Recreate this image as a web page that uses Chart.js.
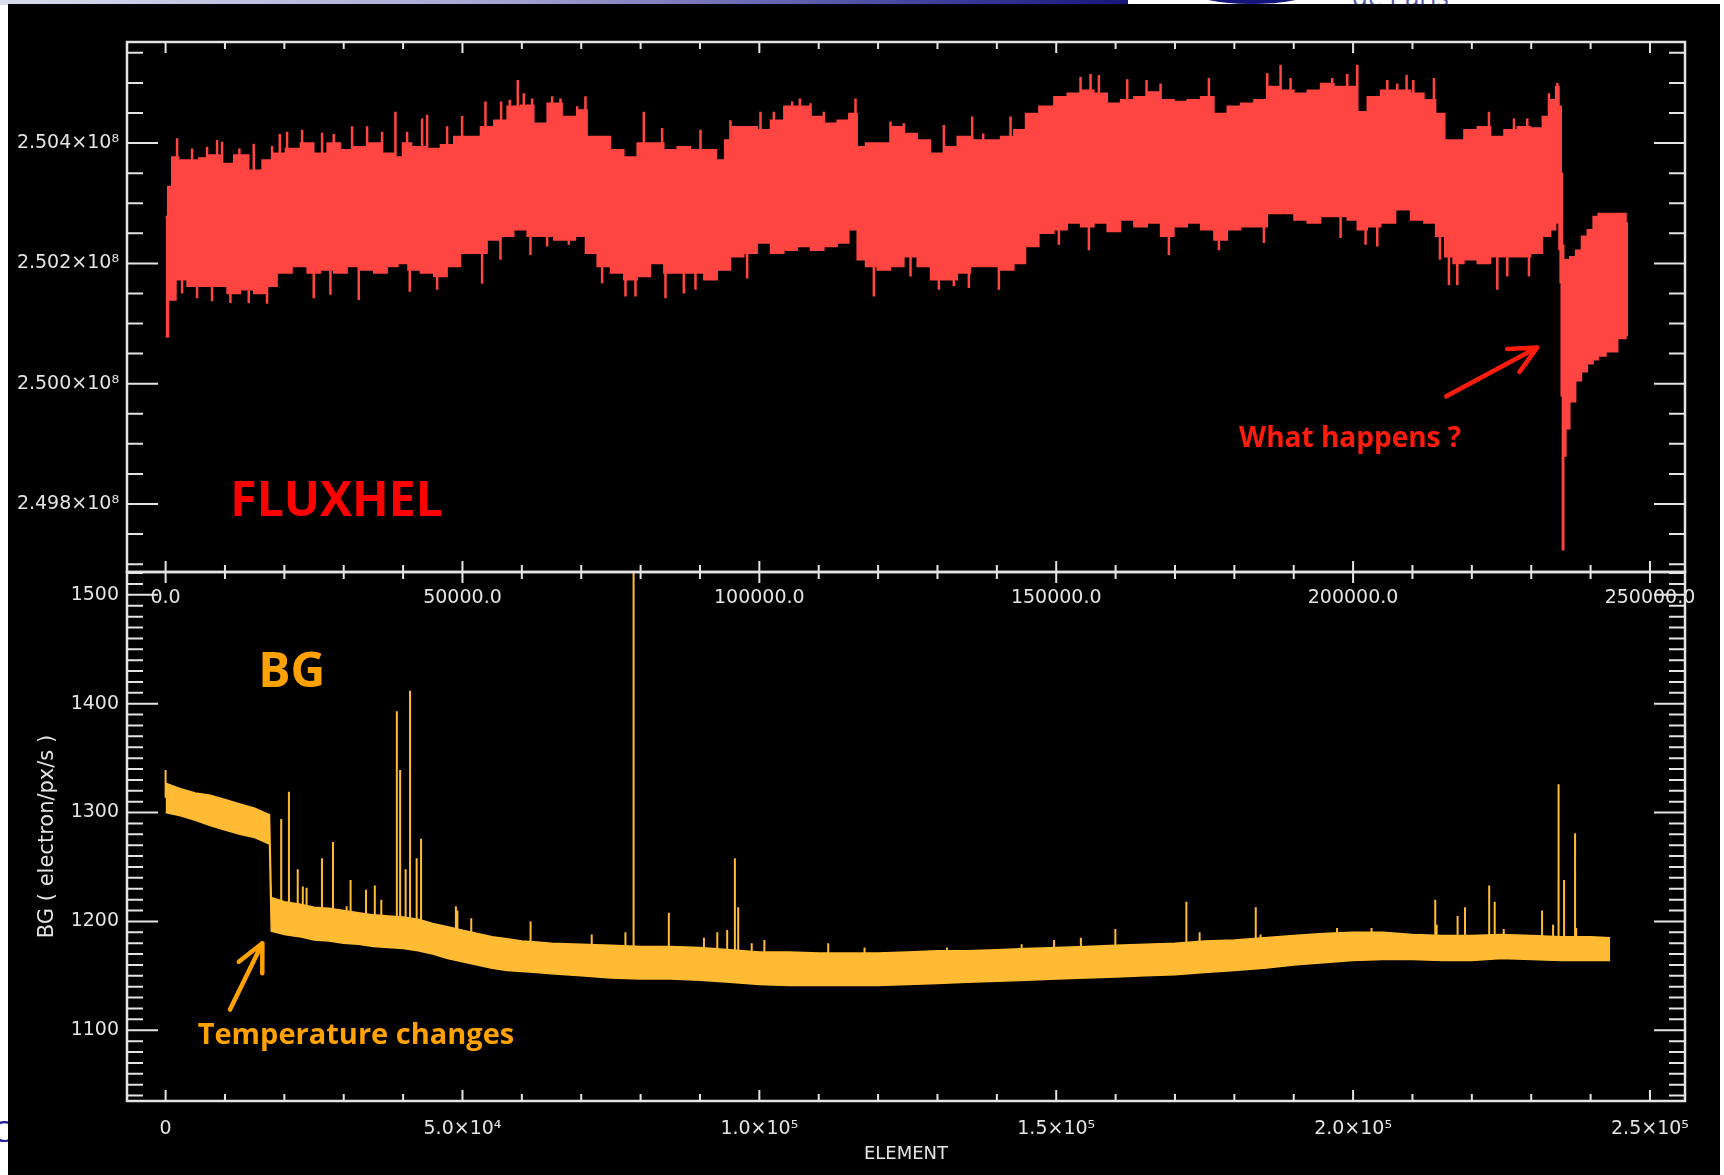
<!DOCTYPE html>
<html>
<head>
<meta charset="utf-8">
<script src="https://cdn.jsdelivr.net/npm/chart.js@4.4.1/dist/chart.umd.min.js"></script>
<style>
  html, body { margin: 0; padding: 0; background: #fff; overflow: hidden; }
  #page { position: relative; width: 1724px; height: 1175px; }
  #header { position: absolute; left: 0; top: 0; width: 1724px; height: 5px; overflow: hidden; }
  #bar { position: absolute; left: 0; top: 0; width: 1128px; height: 5px;
         background: linear-gradient(to right, #dcdcee, #a4a4d2 45%, #3a3a98 85%, #16167a); }
  #logo { position: absolute; left: 1184px; top: -30px; width: 136px; height: 34px; border-radius: 50%; background: #14147c; }
  #paris { position: absolute; left: 1352px; top: -22px; font: 26px 'Open Sans', sans-serif; color: #5a5ab0; }
  #cLetter { position: absolute; left: -8px; top: 1110px; font: 30px 'Open Sans', sans-serif; color: #1e1e96; }
  #slide { position: absolute; left: 8px; top: 4px; width: 1712px; height: 1171px; background: #000; }
  canvas { position: absolute; left: 0; top: 0; }
</style>
</head>
<body>
<div id="page">
  <div id="header"><div id="bar"></div><div id="logo"></div><div id="paris">de Paris</div></div>
  <div id="cLetter">C</div>
  <div id="slide"></div>
  <canvas id="bgChart" width="1724" height="1175"></canvas>
  <canvas id="fluxChart" width="1724" height="1175"></canvas>
</div>
<script>
// ---- valeurs ----

// FLUXHEL (unités de 1e8) : bord haut de la bande [élément, valeur]
const fluxUpper = [[0, 2.50278], [700, 2.50328], [1370, 2.50377], [3055, 2.50372], [4739, 2.50372], [6420, 2.50375],
  [8108, 2.50380], [10354, 2.50366], [12600, 2.50380], [15408, 2.50355], [17092, 2.50372], [18777, 2.50383],
  [21584, 2.50391], [23830, 2.50400], [26076, 2.50383], [28322, 2.50400], [30568, 2.50389], [32814, 2.50394],
  [35060, 2.50400], [37306, 2.50383], [39700, 2.50377], [39833, 2.50294], [39950, 2.50400], [42921, 2.50394],
  [45167, 2.50391], [47413, 2.50397], [49659, 2.50411], [51905, 2.50411], [54151, 2.50427], [56397, 2.50438],
  [58643, 2.50461], [60889, 2.50463], [63135, 2.50433], [65381, 2.50466], [68188, 2.50444], [70434, 2.50455],
  [71557, 2.50411], [73803, 2.50411], [76049, 2.50389], [78295, 2.50377], [80541, 2.50400], [82787, 2.50400],
  [85033, 2.50389], [87279, 2.50394], [89525, 2.50389], [91771, 2.50389], [93736, 2.50372], [94579, 2.50405],
  [96263, 2.50427], [98509, 2.50427], [100755, 2.50422], [103001, 2.50438], [105247, 2.50461], [107493, 2.50461],
  [109739, 2.50444], [111985, 2.50433], [114231, 2.50438], [115916, 2.50449], [117039, 2.50394], [118723, 2.50400],
  [120969, 2.50400], [123215, 2.50427], [125461, 2.50416], [127707, 2.50405], [129953, 2.50383], [132199, 2.50394],
  [134445, 2.50411], [136691, 2.50405], [139499, 2.50405], [141745, 2.50411], [143991, 2.50422], [145676, 2.50449],
  [148483, 2.50461], [150729, 2.50477], [152975, 2.50483], [155221, 2.50488], [157467, 2.50483], [159713, 2.50466],
  [161959, 2.50472], [164205, 2.50477], [166451, 2.50485], [168697, 2.50472], [170943, 2.50469], [173189, 2.50472],
  [175435, 2.50477], [177681, 2.50449], [179927, 2.50461], [182173, 2.50466], [184419, 2.50472], [186665, 2.50494],
  [188911, 2.50488], [191157, 2.50483], [193403, 2.50488], [195649, 2.50499], [197895, 2.50494], [200141, 2.50494],
  [201264, 2.50452], [203510, 2.50477], [205756, 2.50488], [208564, 2.50488], [210810, 2.50483], [213056, 2.50472],
  [214741, 2.50449], [216144, 2.50405], [217548, 2.50405], [219794, 2.50422], [222040, 2.50427], [224286, 2.50411],
  [226532, 2.50422], [228778, 2.50427], [231024, 2.50425], [232707, 2.50444], [233831, 2.50472], [234393, 2.50494],
  [234955, 2.50461], [235150, 2.50350], [235350, 2.50230], [235600, 2.50206], [236078, 2.50206], [236920, 2.50211],
  [238043, 2.50222], [238885, 2.50245], [240008, 2.50256], [240850, 2.50278], [241692, 2.50283], [243500, 2.50283],
  [245623, 2.50283], [246297, 2.50267]];

// FLUXHEL : bord bas de la bande
const fluxLower = [[0, 2.50078], [1000, 2.50139], [2493, 2.50173], [4739, 2.50162], [6985, 2.50162], [9231, 2.50162],
  [11477, 2.50150], [13723, 2.50156], [15969, 2.50150], [17654, 2.50162], [19900, 2.50184], [22707, 2.50195],
  [24953, 2.50184], [27199, 2.50189], [29445, 2.50184], [31691, 2.50195], [33937, 2.50189], [36183, 2.50184],
  [38429, 2.50195], [39833, 2.50200], [41798, 2.50189], [44044, 2.50184], [46290, 2.50178], [48536, 2.50195],
  [50782, 2.50217], [53028, 2.50217], [55274, 2.50239], [57520, 2.50245], [59766, 2.50256], [62012, 2.50245],
  [64258, 2.50245], [66504, 2.50239], [68188, 2.50239], [69873, 2.50245], [71557, 2.50217], [73803, 2.50195],
  [76049, 2.50184], [78295, 2.50173], [80541, 2.50178], [82787, 2.50200], [85033, 2.50184], [87279, 2.50184],
  [89525, 2.50184], [91771, 2.50173], [94017, 2.50189], [96263, 2.50211], [98509, 2.50217], [100755, 2.50234],
  [103001, 2.50217], [105247, 2.50222], [107493, 2.50228], [109739, 2.50222], [111985, 2.50228], [114231, 2.50234],
  [115916, 2.50256], [117039, 2.50206], [118723, 2.50195], [120969, 2.50189], [123215, 2.50195], [125461, 2.50211],
  [127707, 2.50195], [129953, 2.50173], [132199, 2.50173], [134445, 2.50184], [136691, 2.50195], [139499, 2.50195],
  [141745, 2.50189], [143991, 2.50200], [145676, 2.50228], [148483, 2.50250], [150729, 2.50256], [152975, 2.50267],
  [155221, 2.50261], [157467, 2.50267], [159713, 2.50253], [161959, 2.50272], [164205, 2.50261], [166451, 2.50267],
  [168697, 2.50245], [170943, 2.50261], [173189, 2.50267], [175435, 2.50256], [177681, 2.50239], [179927, 2.50256],
  [182173, 2.50261], [184419, 2.50261], [186665, 2.50283], [188911, 2.50283], [191157, 2.50272], [193403, 2.50267],
  [195649, 2.50278], [197895, 2.50278], [200141, 2.50272], [201264, 2.50256], [203510, 2.50261], [205756, 2.50267],
  [208564, 2.50289], [210810, 2.50272], [213056, 2.50267], [214741, 2.50245], [216144, 2.50211], [217548, 2.50200],
  [219794, 2.50206], [222040, 2.50200], [224286, 2.50211], [226532, 2.50211], [228778, 2.50211], [231024, 2.50217],
  [232707, 2.50245], [233831, 2.50256], [234393, 2.50267], [234955, 2.50223], [235150, 2.49980], [235350, 2.49724],
  [235600, 2.49880], [236078, 2.49925], [236920, 2.49970], [238043, 2.50005], [238885, 2.50020], [240008, 2.50033],
  [240850, 2.50040], [241692, 2.50046], [243500, 2.50053], [245623, 2.50075], [246297, 2.50080]];

// FLUXHEL : pics qui dépassent de la bande (vers le haut puis vers le bas)
const fluxSpikes = [[1932, 2.50408], [4458, 2.50391], [6985, 2.50394], [8670, 2.50405], [9512, 2.50402], [12432, 2.50391],
  [14846, 2.50399], [17934, 2.50395], [19226, 2.50415], [20461, 2.50419], [22988, 2.50422], [26357, 2.50417],
  [28322, 2.50415], [31410, 2.50428], [33937, 2.50428], [36464, 2.50419], [38710, 2.50452], [40675, 2.50419],
  [43203, 2.50441], [44044, 2.50447], [47413, 2.50428], [49940, 2.50445], [53871, 2.50469], [56510, 2.50469],
  [57970, 2.50472], [59317, 2.50505], [60328, 2.50483], [61731, 2.50474], [65100, 2.50478], [66504, 2.50474],
  [69311, 2.50461], [70715, 2.50478], [80541, 2.50452], [83629, 2.50425], [90087, 2.50422], [95140, 2.50438],
  [100194, 2.50452], [102440, 2.50452], [105528, 2.50469], [106820, 2.50474], [108616, 2.50466], [110862, 2.50452],
  [116196, 2.50474], [122092, 2.50436], [124338, 2.50433], [131076, 2.50430], [135849, 2.50444], [137702, 2.50416],
  [142307, 2.50444], [154098, 2.50510], [155783, 2.50515], [157186, 2.50513], [161959, 2.50506], [165216, 2.50505],
  [167574, 2.50499], [175716, 2.50508], [185542, 2.50516], [187788, 2.50530], [189473, 2.50508], [196492, 2.50508],
  [199019, 2.50515], [200703, 2.50530], [205756, 2.50505], [207441, 2.50499], [209013, 2.50513], [210136, 2.50505],
  [213618, 2.50508], [222883, 2.50452], [227094, 2.50441], [229340, 2.50441], [232989, 2.50483], [234393, 2.50500],
  [2774, 2.50150], [5301, 2.50142], [7827, 2.50137], [10916, 2.50134], [14004, 2.50134], [17092, 2.50133],
  [24953, 2.50142], [27761, 2.50148], [32533, 2.50139], [41124, 2.50153], [45729, 2.50156], [53309, 2.50166],
  [56397, 2.50206], [61450, 2.50214], [64258, 2.50228], [67908, 2.50231], [73522, 2.50167], [77453, 2.50145],
  [79137, 2.50145], [84190, 2.50142], [87279, 2.50150], [89244, 2.50156], [97948, 2.50175], [119285, 2.50145],
  [125461, 2.50178], [130234, 2.50156], [132760, 2.50162], [135287, 2.50159], [140341, 2.50156], [150448, 2.50231],
  [155501, 2.50222], [168978, 2.50214], [177400, 2.50222], [184981, 2.50234], [197895, 2.50242], [202106, 2.50231],
  [204071, 2.50228], [214628, 2.50206], [216144, 2.50164], [217548, 2.50164], [224286, 2.50156], [225970, 2.50178],
  [229620, 2.50178], [234955, 2.50167]];

// BG (electron/px/s)
const bgX = [0, 2500, 5000, 7500, 10000, 12500, 15000, 17500, 17800, 20000, 22500, 25000, 27500, 30000, 32500,
  35000, 37500, 40000, 42500, 45000, 47500, 50000, 52500, 55000, 57500, 60000, 62500, 65000, 70000, 75000,
  80000, 85000, 90000, 95000, 100000, 105000, 110000, 115000, 120000, 125000, 130000, 135000, 140000, 145000, 150000,
  155000, 160000, 165000, 170000, 175000, 180000, 185000, 190000, 195000, 200000, 205000, 210000, 215000, 220000, 225000,
  230000, 235000, 240000, 243300];
const bgUpper = [1327, 1322, 1318, 1316, 1312, 1308, 1304, 1298, 1222, 1218, 1216, 1213, 1212, 1210, 1208,
  1206, 1205, 1204, 1202, 1198, 1195, 1192, 1189, 1186, 1184, 1182, 1181, 1180, 1179, 1178,
  1177, 1177, 1176, 1174, 1172, 1172, 1171, 1171, 1171, 1172, 1173, 1173, 1174, 1175, 1176,
  1177, 1178, 1179, 1180, 1182, 1183, 1185, 1187, 1189, 1190, 1190, 1188, 1187, 1187, 1188,
  1187, 1186, 1186, 1185];
const bgLower = [1300, 1297, 1293, 1288, 1284, 1280, 1277, 1271, 1191, 1188, 1186, 1183, 1182, 1180, 1179,
  1177, 1176, 1175, 1173, 1170, 1166, 1163, 1160, 1157, 1155, 1154, 1153, 1152, 1150, 1148,
  1147, 1147, 1146, 1144, 1142, 1141, 1141, 1141, 1141, 1142, 1143, 1144, 1145, 1146, 1147,
  1148, 1149, 1150, 1151, 1153, 1155, 1157, 1160, 1162, 1164, 1165, 1165, 1164, 1164, 1166,
  1165, 1164, 1164, 1164];
const bgSpikes = [[0, 1339], [19473, 1294], [20772, 1319], [22255, 1248], [23110, 1232], [23740, 1231], [26335, 1258],
  [28190, 1273], [30490, 1214], [31157, 1238], [33750, 1229], [35237, 1233], [36330, 1220], [38946, 1393], [39503, 1339],
  [40430, 1248], [41172, 1412], [42285, 1258], [43027, 1276], [48890, 1214], [49147, 1210], [51480, 1203], [61470, 1200],
  [71770, 1188], [77447, 1190], [78820, 1525], [84755, 1208], [90672, 1185], [92915, 1190], [94584, 1192], [95882, 1258],
  [96438, 1213], [98716, 1180], [100848, 1183], [111603, 1180], [117720, 1176], [131600, 1176], [144175, 1179],
  [149640, 1183], [154150, 1185], [159960, 1193], [171922, 1218], [174150, 1190], [183605, 1213], [184420, 1188],
  [197300, 1194], [203100, 1194], [213835, 1220], [214070, 1197], [217600, 1205], [218843, 1213], [222923, 1233],
  [223850, 1218], [225370, 1193], [231825, 1210], [233680, 1197], [234607, 1326], [235535, 1238], [237389, 1281],
  [237570, 1194]];

// graduations
const xTicks = [0, 50000, 100000, 150000, 200000, 250000];
const topXLabels = ['0.0', '50000.0', '100000.0', '150000.0', '200000.0', '250000.0'];
const bottomXLabels = ['0', '5.0×10⁴', '1.0×10⁵', '1.5×10⁵', '2.0×10⁵', '2.5×10⁵'];
const fluxYTicks = [2.498, 2.500, 2.502, 2.504];
const fluxYLabels = ['2.498×10⁸', '2.500×10⁸', '2.502×10⁸', '2.504×10⁸'];
const bgYTicks = [1100, 1200, 1300, 1400, 1500];
const bgYLabels = ['1100', '1200', '1300', '1400', '1500'];

// ---- mise en page ----
const W = 1724, H = 1175;
const PLOT_LEFT = 127, PLOT_RIGHT = 1685, TOP_Y = 42, MID_Y = 572, BOT_Y = 1101;
const AXIS = '#e4e4e4';
const RED = '#ff4541';
const ORANGE = '#ffbb33';
const TICK_FONT = { family: 'DejaVu Sans', size: 19 };

Chart.defaults.font.family = 'DejaVu Sans';

const toPts = arr => arr.map(([x, y]) => ({ x, y }));

function edgeAt(pts, x) {
  for (let i = 1; i < pts.length; i++) {
    if (x <= pts[i][0]) {
      const t = (x - pts[i - 1][0]) / (pts[i][0] - pts[i - 1][0]);
      return pts[i - 1][1] + t * (pts[i][1] - pts[i - 1][1]);
    }
  }
  return pts[pts.length - 1][1];
}

// un segment vertical par pic, ancré au milieu de la bande
function spikeSegments(spikes, lo, hi) {
  const pts = [];
  spikes.forEach(([x, y]) => {
    const mid = (edgeAt(lo, x) + edgeAt(hi, x)) / 2;
    pts.push({ x, y: mid }, { x, y }, { x, y: null });
  });
  return pts;
}

function eachTick(min, max, minor, major, fn) {
  for (let k = Math.ceil(min / minor - 1e-9); k * minor <= max + 1e-9; k++) {
    const v = k * minor;
    const r = v / major;
    fn(v, Math.abs(r - Math.round(r)) < 1e-6);
  }
}

// cadre et graduations internes façon IDL
const idlAxes = {
  id: 'idlAxes',
  afterDatasetsDraw(chart, args, o) {
    const { ctx, chartArea: a } = chart;
    const xs = chart.scales.x, ys = chart.scales.y;
    ctx.save();
    ctx.strokeStyle = AXIS;
    ctx.lineWidth = 2;
    ctx.beginPath();
    eachTick(xs.min, xs.max, o.xMinor, o.xMajor, (v, major) => {
      const px = xs.getPixelForValue(v), len = major ? 11 : 7;
      ctx.moveTo(px, a.bottom); ctx.lineTo(px, a.bottom - len);
      ctx.moveTo(px, a.top); ctx.lineTo(px, a.top + len);
    });
    eachTick(ys.min, ys.max, o.yMinor, o.yMajor, (v, major) => {
      const py = ys.getPixelForValue(v), len = major ? 31 : 16;
      ctx.moveTo(a.left, py); ctx.lineTo(a.left + len, py);
      ctx.moveTo(a.right, py); ctx.lineTo(a.right - len, py);
    });
    ctx.stroke();
    ctx.lineWidth = 2.5;
    ctx.strokeRect(a.left, a.top, a.right - a.left, a.bottom - a.top);
    ctx.restore();
  }
};

function drawArrow(ctx, x0, y0, x1, y1, head) {
  const ang = Math.atan2(y1 - y0, x1 - x0);
  ctx.beginPath();
  ctx.moveTo(x0, y0);
  ctx.lineTo(x1, y1);
  ctx.moveTo(x1 - head * Math.cos(ang - 0.45), y1 - head * Math.sin(ang - 0.45));
  ctx.lineTo(x1, y1);
  ctx.lineTo(x1 - head * Math.cos(ang + 0.45), y1 - head * Math.sin(ang + 0.45));
  ctx.stroke();
}

// textes et flèches placés en coordonnées de données
const notes = {
  id: 'notes',
  afterDraw(chart, args, o) {
    const { ctx } = chart;
    const xs = chart.scales.x, ys = chart.scales.y;
    ctx.save();
    (o.texts || []).forEach(t => {
      ctx.font = t.font;
      ctx.fillStyle = t.color;
      ctx.textAlign = 'left';
      ctx.textBaseline = 'alphabetic';
      ctx.fillText(t.text, xs.getPixelForValue(t.x), ys.getPixelForValue(t.y));
    });
    (o.arrows || []).forEach(r => {
      ctx.strokeStyle = r.color;
      ctx.lineWidth = 4.5;
      ctx.lineCap = 'round';
      ctx.lineJoin = 'round';
      drawArrow(ctx, xs.getPixelForValue(r.x0), ys.getPixelForValue(r.y0),
        xs.getPixelForValue(r.x1), ys.getPixelForValue(r.y1), 30);
    });
    ctx.restore();
  }
};

function bandSets(lo, hi, spikes, color, spikeWidth, stepped) {
  return [
    { data: toPts(lo), borderColor: color, borderWidth: 1.5, pointRadius: 0, fill: false, stepped },
    { data: toPts(hi), borderColor: color, borderWidth: 1.5, pointRadius: 0, fill: '-1', backgroundColor: color, stepped },
    { data: spikeSegments(spikes, lo, hi), borderColor: color, borderWidth: spikeWidth, pointRadius: 0,
      fill: false, spanGaps: false }
  ];
}

function axisX(labels, height, padding, extra) {
  return Object.assign({
    type: 'linear', min: -6500, max: 255900,
    grid: { display: false, drawTicks: false }, border: { display: false },
    afterBuildTicks: s => { s.ticks = xTicks.map(v => ({ value: v })); },
    afterFit: s => { s.height = height; },
    ticks: { autoSkip: false, maxRotation: 0, padding, color: AXIS, font: TICK_FONT, callback: (v, i) => labels[i] }
  }, extra || {});
}

function axisY(min, max, values, labels, extra) {
  return Object.assign({
    type: 'linear', min, max,
    grid: { display: false, drawTicks: false }, border: { display: false },
    afterBuildTicks: s => { s.ticks = values.map(v => ({ value: v })); },
    afterFit: s => { s.width = PLOT_LEFT; },
    ticks: { padding: 8, color: AXIS, font: TICK_FONT, callback: (v, i) => labels[i] }
  }, extra || {});
}

// ---- graphique du haut : FLUXHEL ----
new Chart(document.getElementById('fluxChart'), {
  type: 'line',
  data: { datasets: bandSets(fluxLower, fluxUpper, fluxSpikes, RED, 2.5, 'middle') },
  options: {
    responsive: false,
    animation: false,
    events: [],
    layout: { padding: { top: TOP_Y, right: W - PLOT_RIGHT, left: 0, bottom: 0 } },
    plugins: {
      legend: { display: false },
      tooltip: { enabled: false },
      idlAxes: { xMinor: 10000, xMajor: 50000, yMinor: 0.0005, yMajor: 0.002 },
      notes: {
        texts: [
          { text: 'FLUXHEL', x: 10900, y: 2.49780, font: 'bold 48px "Open Sans"', color: '#ff0000' },
          { text: 'What happens ?', x: 180800, y: 2.49895, font: 'bold 28px "Open Sans"', color: '#ff1c0c' }
        ],
        arrows: [
          { x0: 215700, y0: 2.49979, x1: 231000, y1: 2.50060, color: '#ff1c0c' }
        ]
      }
    },
    scales: {
      x: axisX(topXLabels, H - MID_Y, 15),
      y: axisY(2.49687, 2.50568, fluxYTicks, fluxYLabels)
    }
  },
  plugins: [idlAxes, notes]
});

// ---- graphique du bas : BG ----
const bgLowerPts = bgX.map((x, i) => [x, bgLower[i]]);
const bgUpperPts = bgX.map((x, i) => [x, bgUpper[i]]);

new Chart(document.getElementById('bgChart'), {
  type: 'line',
  data: { datasets: bandSets(bgLowerPts, bgUpperPts, bgSpikes, ORANGE, 2, false) },
  options: {
    responsive: false,
    animation: false,
    events: [],
    layout: { padding: { top: MID_Y, right: W - PLOT_RIGHT, left: 0, bottom: 0 } },
    plugins: {
      legend: { display: false },
      tooltip: { enabled: false },
      idlAxes: { xMinor: 10000, xMajor: 50000, yMinor: 10, yMajor: 100 },
      notes: {
        texts: [
          { text: 'BG', x: 15600, y: 1415, font: 'bold 48px "Open Sans"', color: '#ffa200' },
          { text: 'Temperature changes', x: 5400, y: 1087, font: 'bold 29px "Open Sans"', color: '#ffa200' }
        ],
        arrows: [
          { x0: 10850, y0: 1119, x1: 16300, y1: 1180, color: '#ffa200' }
        ]
      }
    },
    scales: {
      x: axisX(bottomXLabels, H - BOT_Y, 17, {
        title: { display: true, text: 'ELEMENT', color: AXIS, font: { family: 'DejaVu Sans', size: 18 },
                 padding: { top: 2, bottom: 10 } }
      }),
      y: axisY(1035, 1521, bgYTicks, bgYLabels, {
        title: { display: true, text: 'BG ( electron/px/s )', color: AXIS, font: { family: 'DejaVu Sans', size: 21 },
                 padding: { top: 35, bottom: 0 } }
      })
    }
  },
  plugins: [idlAxes, notes]
});
</script>
</body>
</html>
